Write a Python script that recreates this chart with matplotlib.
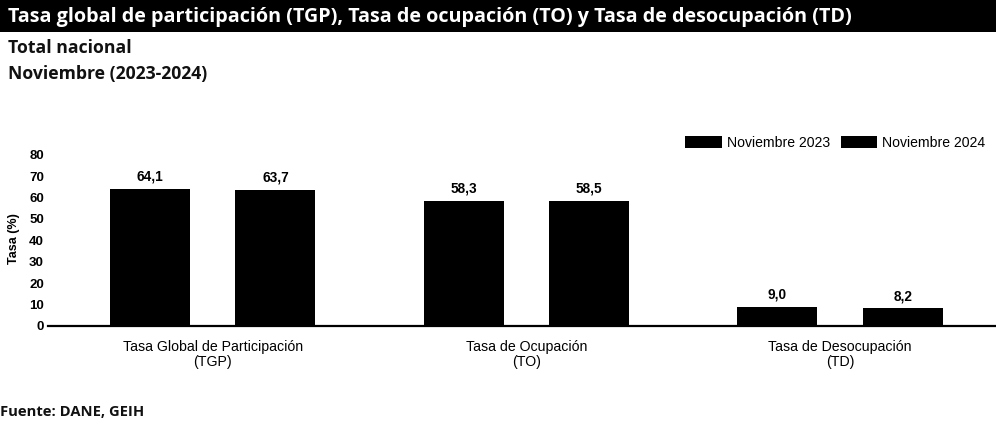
import numpy as np
import matplotlib
matplotlib.use("Agg")
import matplotlib.pyplot as plt
from matplotlib.patches import Rectangle

categorias = ["Tasa Global de Participación\n(TGP)", "Tasa de Ocupación\n(TO)", "Tasa de Desocupación\n(TD)"]
nov_2023 = [64.1, 58.3, 9.0]
nov_2024 = [63.7, 58.5, 8.2]
series = ["Noviembre 2023", "Noviembre 2024"]
yticks = [0, 10, 20, 30, 40, 50, 60, 70, 80]

W, H = 996, 430
fig = plt.figure(figsize=(W / 100, H / 100), dpi=100)
fig.patch.set_facecolor("white")

# barra negra del titulo
fig.patches.append(Rectangle((0, 1 - 32 / H), 1, 32 / H, transform=fig.transFigure,
                             facecolor="black", edgecolor="none", zorder=0))
fig.text(8 / W, 1 - 17 / H, "Tasa global de participación (TGP), Tasa de ocupación (TO) y Tasa de desocupación (TD)",
         color="white", fontsize=14.2, fontweight="bold", family="Open Sans", va="center", ha="left")
fig.text(8 / W, 1 - 48 / H, "Total nacional", fontsize=12.7, fontweight="bold", family="Open Sans",
         va="center", ha="left", color="#111111")
fig.text(8 / W, 1 - 74 / H, "Noviembre (2023-2024)", fontsize=12.7, fontweight="bold", family="Open Sans",
         va="center", ha="left", color="#111111")
fig.text(0, 1 - 412 / H, "Fuente: DANE, GEIH", fontsize=10.6, fontweight="bold", family="Open Sans",
         va="center", ha="left", color="#111111")

# ejes en pixeles
left, right = 48, 996
y0, ytop = 326, 144
ax = fig.add_axes([left / W, 1 - y0 / H, (right - left) / W, (y0 - ytop) / H])
ax.set_facecolor("none")

x = np.arange(len(categorias))
w = 0.255
off = 0.2
b1 = ax.bar(x - off, nov_2023, w, color="black", label=series[0])
b2 = ax.bar(x + off, nov_2024, w, color="black", label=series[1])

for bars, vals in ((b1, nov_2023), (b2, nov_2024)):
    for r, v in zip(bars, vals):
        ax.text(r.get_x() + r.get_width() / 2, v + 2.5, f"{v:.1f}".replace(".", ","),
                ha="center", va="bottom", fontsize=9.8, fontweight="bold", family="Liberation Sans")

ax.set_xlim(-0.525, 2.497)
ax.set_ylim(0, 85)
ax.set_yticks(yticks)
ax.set_yticklabels([str(t) for t in yticks], fontsize=9.5, fontweight="bold", family="Liberation Sans")
ax.set_xticks(x)
ax.set_xticklabels(categorias, fontsize=10.2, family="Liberation Sans", linespacing=1.12)
ax.tick_params(axis="x", length=0, pad=10)
ax.tick_params(axis="y", length=0, pad=3)
for s in ["top", "right", "left"]:
    ax.spines[s].set_visible(False)
ax.spines["bottom"].set_linewidth(1.6)
ax.set_ylabel("Tasa (%)", fontsize=9, fontweight="bold", family="Liberation Sans")
ax.yaxis.set_label_coords(-28 / (right - left), 0.48)

fig.legend(handles=[b1, b2], labels=series, loc="center right", bbox_to_anchor=(998 / W, 1 - 143 / H),
           ncol=2, frameon=False, handlelength=2.6, handleheight=0.9, handletextpad=0.35,
           columnspacing=0.8, prop={"family": "Liberation Sans", "size": 10.1})

fig.savefig("out.png", dpi=100)
